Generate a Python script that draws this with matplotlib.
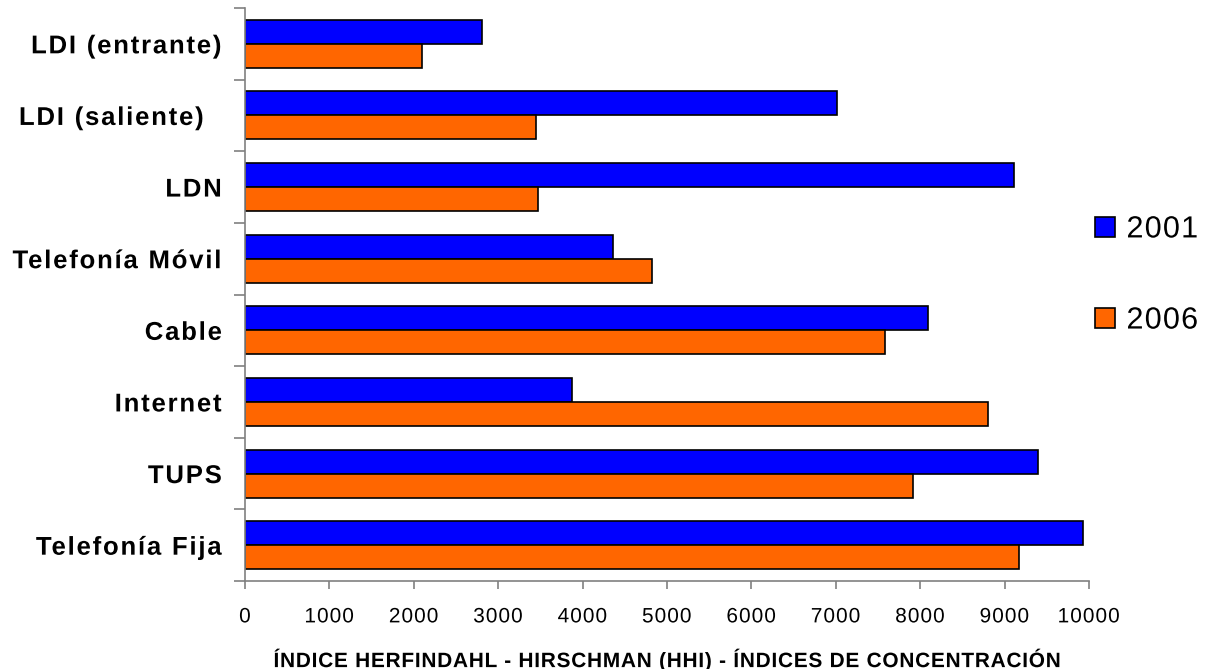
import matplotlib
matplotlib.use("Agg")
import matplotlib.pyplot as plt
import numpy as np
from matplotlib.ticker import FixedLocator, NullFormatter
from matplotlib.patheffects import AbstractPathEffect
from matplotlib.textpath import text_to_path
from matplotlib.path import Path

# HHI concentration indices by service
categories = ["LDI (entrante)", "LDI (saliente)  ", "LDN", "Telefonía Móvil",
              "Cable", "Internet", "TUPS", "Telefonía Fija"]
hhi_2001 = [2810, 7020, 9110, 4360, 8090, 3880, 9390, 9925]
hhi_2006 = [2095, 3445, 3470, 4825, 7580, 8805, 7910, 9165]
series_labels = ["2001", "2006"]
x_ticks = list(range(0, 10001, 1000))
x_title = "ÍNDICE HERFINDAHL - HIRSCHMAN (HHI) - ÍNDICES DE CONCENTRACIÓN"

BLUE = "#0000FF"
ORANGE = "#FF6600"
GREY = "#808080"


class Tracking(AbstractPathEffect):
    """Draw text with extra letter spacing (fraction of an em per glyph)."""

    def __init__(self, text, prop, spacing, align="center"):
        super().__init__()
        font = text_to_path._get_font(prop)
        info, _, _ = text_to_path.get_glyphs_with_font(font, text)
        self.starts = np.array([g[1] for g in info], dtype=float)
        n = len(self.starts)
        self.step = spacing * text_to_path.FONT_SCALE
        self.anchor = {"left": 0.0, "center": (n - 1) / 2.0, "right": n - 1.0}[align]

    def draw_path(self, renderer, gc, tpath, affine, rgbFace=None):
        verts = np.array(tpath.vertices, dtype=float)
        codes = tpath.codes
        if codes is None or len(self.starts) == 0:
            renderer.draw_path(gc, tpath, affine, rgbFace)
            return
        moves = list(np.nonzero(codes == Path.MOVETO)[0]) + [len(codes)]
        for a, b in zip(moves[:-1], moves[1:]):
            seg = slice(a, b)
            real = codes[seg] != Path.CLOSEPOLY
            if not real.any():
                continue
            xs = verts[seg][real, 0]
            cx = 0.5 * (xs.min() + xs.max())
            j = max(np.searchsorted(self.starts, cx, side="right") - 1, 0)
            verts[seg, 0] += (j - self.anchor) * self.step
        renderer.draw_path(gc, Path(verts, codes), affine, rgbFace)


def track(label, text, spacing, align):
    label.set_path_effects([Tracking(text, label.get_fontproperties(), spacing, align)])


fig = plt.figure(figsize=(12.06, 6.69), dpi=100)
ax = fig.add_axes([245 / 1206, 1 - 581 / 669, (1089 - 245) / 1206, (581 - 8) / 669])

y = np.arange(len(categories))
h = 0.335
ax.barh(y - h / 2, hhi_2001, height=h, color=BLUE, edgecolor="black",
        linewidth=1.2, label=series_labels[0])
ax.barh(y + h / 2, hhi_2006, height=h, color=ORANGE, edgecolor="black",
        linewidth=1.2, label=series_labels[1])

ax.set_xlim(0, 10000)
ax.set_ylim(len(categories) - 0.5, -0.5)

for s in ("top", "right"):
    ax.spines[s].set_visible(False)
for s in ("left", "bottom"):
    ax.spines[s].set_color(GREY)
    ax.spines[s].set_linewidth(1.2)

# x axis
ax.set_xticks(x_ticks)
xlabels = ax.set_xticklabels([str(v) for v in x_ticks],
                             fontfamily="Liberation Sans", fontsize=15)
ax.tick_params(axis="x", direction="out", length=6, width=1.2, color=GREY, pad=13)
for lab, v in zip(xlabels, x_ticks):
    track(lab, str(v), 0.05, "center")

# y axis: labels centred on categories, tick marks between categories
ax.set_yticks(y)
ylabels = ax.set_yticklabels(categories, fontfamily="Liberation Sans",
                             fontweight="bold", fontsize=18.5)
ax.tick_params(axis="y", which="major", length=0, pad=16.6)
ax.yaxis.set_minor_locator(FixedLocator(np.arange(-0.5, len(categories), 1.0)))
ax.yaxis.set_minor_formatter(NullFormatter())
ax.tick_params(axis="y", which="minor", direction="out", length=8, width=1.2,
               color=GREY)
for lab, txt in zip(ylabels, categories):
    track(lab, txt, 0.07, "right")

ax.set_xlabel(x_title, fontfamily="Liberation Sans", fontweight="bold",
              fontsize=15, labelpad=16)
track(ax.xaxis.label, x_title, 0.036, "center")

leg = fig.legend(loc="center left", bbox_to_anchor=(1095 / 1206, 1 - 275 / 669),
                 frameon=False, handlelength=0.65, handleheight=0.65,
                 handletextpad=0.38, labelspacing=2.0, borderpad=0, borderaxespad=0,
                 prop={"family": "Liberation Sans", "size": 22})
for t, s in zip(leg.get_texts(), series_labels):
    track(t, s, 0.04, "left")

fig.savefig("out.png", dpi=100)
